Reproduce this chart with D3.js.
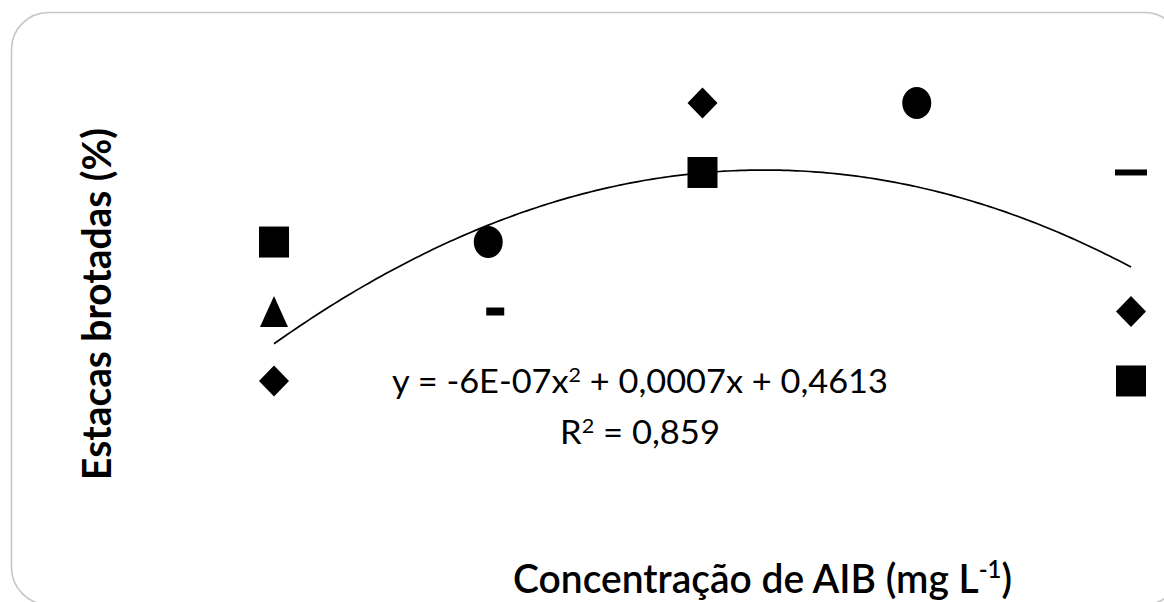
<!DOCTYPE html>
<html>
<head>
<meta charset="utf-8">
<script src="https://cdn.jsdelivr.net/npm/d3@7/dist/d3.min.js"></script>
<style>
  html, body { margin: 0; padding: 0; background: #fff; }
  svg { display: block; }
  text { font-family: Lato, "Open Sans", "Noto Sans", sans-serif; fill: #000; }
</style>
</head>
<body>
<svg id="chart" width="1164" height="602"></svg>
<script>
// AIB concentration levels (mg L-1)
const concentrations = [0, 250, 500, 750, 1000];

// Proportion of sprouted cuttings, one array per marker series (null = no point)
const diamondValues  = [0.4167, null, 0.75,   null, 0.5];
const squareValues   = [0.5833, null, 0.6667, null, 0.4167];
const triangleValues = [0.5,    null, null,   null, null];
const circleValues   = [null, 0.5833, null,   0.75, null];
const shortDashValues = [null, 0.5,   null,   null, null];
const longDashValues  = [null, null,  null,   null, 0.6667];

// Quadratic trendline y = a x^2 + b x + c and its fit
const trendCoefficients = [-6.36e-7, 7.28e-4, 0.4613];
const rSquared = [0.859];

// Axis titles
const xTitle = ["Concentração de AIB (mg L", "-1", ")"];
const yTitle = ["Estacas brotadas (%)"];

const svg = d3.select("#chart");

// Rounded chart-area border
svg.append("rect")
  .attr("x", 11.5).attr("y", 12.5)
  .attr("width", 1170).attr("height", 592)
  .attr("rx", 37).attr("ry", 37)
  .attr("fill", "#fff")
  .attr("stroke", "#c6c6c6")
  .attr("stroke-width", 1.6);

// Scales (axes are hidden in this chart)
const x = d3.scaleLinear().domain([0, 1000]).range([274, 1131]);
const y = d3.scaleLinear().domain([0.3, 0.8]).range([478.3, 61.3]);

// Trendline
const [qa, qb, qc] = trendCoefficients;
const trendX = d3.range(0, 1000.001, 5);
const line = d3.line()
  .x(d => x(d))
  .y(d => y(qa * d * d + qb * d + qc));
svg.append("path")
  .datum(trendX)
  .attr("d", line)
  .attr("fill", "none")
  .attr("stroke", "#000")
  .attr("stroke-width", 1.7);

// Marker shapes centred on (0,0)
const shapes = {
  square: () => { const w = 30, h = 31; return `M${-w/2},${-h/2}h${w}v${h}h${-w}Z`; },
  diamond: () => { const w = 30, h = 31; return `M0,${-h/2}L${w/2},0L0,${h/2}L${-w/2},0Z`; },
  triangle: () => { const w = 28, h = 31; return `M0,${-h/2}L${w/2},${h/2}L${-w/2},${h/2}Z`; },
  circle: () => { const rx = 14.5, ry = 16; return `M${-rx},0A${rx},${ry} 0 1,0 ${rx},0A${rx},${ry} 0 1,0 ${-rx},0Z`; },
  shortDash: () => `M-2,-4h18v8h-18Z`,
  longDash: () => `M-16,-3h32v6h-32Z`
};

const series = [
  { values: diamondValues, shape: "diamond" },
  { values: squareValues, shape: "square" },
  { values: triangleValues, shape: "triangle" },
  { values: circleValues, shape: "circle" },
  { values: shortDashValues, shape: "shortDash" },
  { values: longDashValues, shape: "longDash" }
];

series.forEach(s => {
  const pts = concentrations
    .map((c, i) => ({ c, v: s.values[i] }))
    .filter(d => d.v !== null);
  svg.append("g")
    .selectAll("path")
    .data(pts)
    .join("path")
    .attr("transform", d => `translate(${x(d.c)},${y(d.v)})`)
    .attr("d", shapes[s.shape]())
    .attr("fill", "#000");
});

// Stretch a text element horizontally so it spans a given width
function fitWidth(sel, target, cx, cy) {
  const w = sel.node().getBBox().width;
  const k = target / w;
  sel.attr("transform", `translate(${cx},${cy}) scale(${k},1) translate(${-cx},${-cy})`);
}

// Equation label, formatted from the coefficients
const fmtA = (() => {
  const [m, e] = qa.toExponential(0).split("e");
  const sign = e[0] === "-" ? "-" : "+";
  const digits = e.replace(/[+-]/, "").padStart(2, "0");
  return `${m}E${sign}${digits}`;
})();
const fmtB = (+qb.toPrecision(1)).toString().replace(".", ",");
const fmtC = qc.toFixed(4).replace(".", ",");
const fmtR = rSquared[0].toFixed(3).replace(".", ",");

const eq = svg.append("text")
  .attr("x", 640).attr("y", 393)
  .attr("text-anchor", "middle")
  .attr("font-size", 32);
eq.append("tspan").text(`y = ${fmtA}x`);
eq.append("tspan").attr("font-size", 20).attr("dy", -11).text("2");
eq.append("tspan").attr("dy", 11).text(` + ${fmtB}x + ${fmtC}`);
fitWidth(eq, 496, 640, 393);

const r2 = svg.append("text")
  .attr("x", 640).attr("y", 444)
  .attr("text-anchor", "middle")
  .attr("font-size", 32);
r2.append("tspan").text("R");
r2.append("tspan").attr("font-size", 20).attr("dy", -11).text("2");
r2.append("tspan").attr("dy", 11).text(` = ${fmtR}`);
fitWidth(r2, 160, 640, 444);

// X axis title
const xt = svg.append("text")
  .attr("x", 762.5).attr("y", 593)
  .attr("text-anchor", "middle")
  .attr("font-size", 41)
  .attr("font-weight", 600);
xt.append("tspan").text(xTitle[0]);
xt.append("tspan").attr("font-size", 25).attr("dy", -15).text(xTitle[1]);
xt.append("tspan").attr("dy", 15).text(xTitle[2]);
fitWidth(xt, 499, 762.5, 593);

// Y axis title (rotated)
const yt = svg.append("text")
  .attr("x", 0).attr("y", 0)
  .attr("text-anchor", "middle")
  .attr("font-size", 41)
  .attr("font-weight", 700)
  .text(yTitle[0]);
const yw = yt.node().getBBox().width;
yt.attr("transform", `translate(111,304) rotate(-90) scale(${352 / yw},1)`);
</script>
</body>
</html>
